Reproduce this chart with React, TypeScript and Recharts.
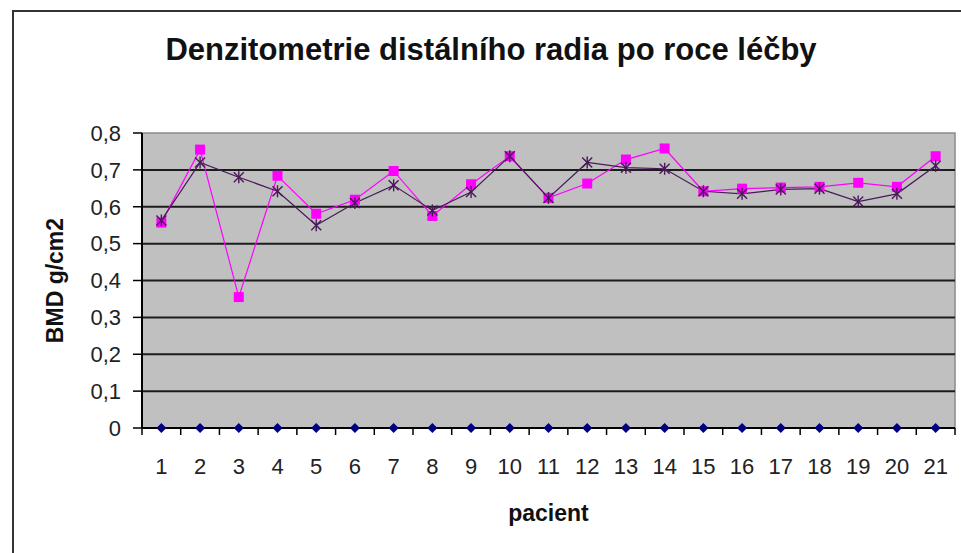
import React from 'react';
import {
  LineChart,
  Line,
  XAxis,
  YAxis,
  CartesianGrid,
  ReferenceArea,
  ReferenceLine,
} from 'recharts';

const patients: number[] = [1, 2, 3, 4, 5, 6, 7, 8, 9, 10, 11, 12, 13, 14, 15, 16, 17, 18, 19, 20, 21];
const baseline: number[] = [0, 0, 0, 0, 0, 0, 0, 0, 0, 0, 0, 0, 0, 0, 0, 0, 0, 0, 0, 0, 0];
const seriesSquare: number[] = [
  0.557, 0.755, 0.355, 0.684, 0.581, 0.619, 0.697, 0.575, 0.661, 0.737, 0.624,
  0.663, 0.728, 0.758, 0.642, 0.649, 0.652, 0.654, 0.665, 0.654, 0.737,
];
const seriesStar: number[] = [
  0.563, 0.72, 0.68, 0.642, 0.55, 0.61, 0.658, 0.59, 0.64, 0.737, 0.624,
  0.72, 0.706, 0.703, 0.642, 0.635, 0.647, 0.649, 0.614, 0.635, 0.711,
];
const yTicks: number[] = [0, 0.1, 0.2, 0.3, 0.4, 0.5, 0.6, 0.7, 0.8];
const gridValues: number[] = [0.1, 0.2, 0.3, 0.4, 0.5, 0.6, 0.7];
const boundaryTicks: number[] = [...patients.map((p) => p - 0.5), patients[patients.length - 1] + 0.5];

const TITLE = 'Denzitometrie distálního radia po roce léčby';
const Y_LABEL = 'BMD g/cm2';
const X_LABEL = 'pacient';

const data = patients.map((p, i) => ({
  pacient: p,
  base: baseline[i],
  sq: seriesSquare[i],
  st: seriesStar[i],
}));

const FONT = '"Liberation Sans", Arial, sans-serif';

const SquareDot = (props: any) => {
  const { cx, cy } = props;
  if (cx == null || cy == null) return <g />;
  return <rect x={cx - 5} y={cy - 5} width={10} height={10} fill="#FF00FF" />;
};

const StarDot = (props: any) => {
  const { cx, cy } = props;
  if (cx == null || cy == null) return <g />;
  const s = 5;
  return (
    <g stroke="#4a1858" strokeWidth={1.4}>
      <line x1={cx - s} y1={cy - s} x2={cx + s} y2={cy + s} />
      <line x1={cx - s} y1={cy + s} x2={cx + s} y2={cy - s} />
      <line x1={cx} y1={cy - s - 1} x2={cx} y2={cy + s + 1} />
    </g>
  );
};

const DiamondDot = (props: any) => {
  const { cx, cy } = props;
  if (cx == null || cy == null) return <g />;
  const s = 5;
  return (
    <polygon
      points={`${cx},${cy - s} ${cx + s},${cy} ${cx},${cy + s} ${cx - s},${cy}`}
      fill="#000080"
    />
  );
};

export default function App() {
  return (
    <div style={{ position: 'absolute', left: 0, top: 0, width: 961, height: 553, background: '#fff', overflow: 'hidden' }}>
      <LineChart
        width={961}
        height={553}
        data={data}
        margin={{ top: 133, right: 6, bottom: 65, left: 0 }}
      >
        <CartesianGrid fill="#C0C0C0" vertical={false} horizontal={false} />
        <ReferenceArea xAxisId="a" yAxisId="y" y1={0} y2={0.8} fill="none" stroke="#8a8a8a" strokeWidth={1.5} ifOverflow="visible" />
        {gridValues.map((v) => (
          <ReferenceLine key={v} xAxisId="a" yAxisId="y" y={v} stroke="#1c1c1c" strokeWidth={2} />
        ))}
        <XAxis
          xAxisId="a"
          dataKey="pacient"
          type="number"
          domain={[0.5, 21.5]}
          ticks={boundaryTicks}
          interval={0}
          tickFormatter={() => ''}
          tick={{ fontSize: 1 }}
          tickSize={7}
          tickLine={{ stroke: '#000', strokeWidth: 1.5 }}
          axisLine={{ stroke: '#000', strokeWidth: 2 }}
          height={1}
          allowDataOverflow
        />
        <XAxis
          xAxisId="b"
          dataKey="pacient"
          type="number"
          domain={[0.5, 21.5]}
          ticks={patients}
          interval={0}
          tickLine={false}
          axisLine={false}
          tickSize={0}
          tickMargin={29}
          height={59}
          tick={{ fontSize: 22, fill: '#222', fontFamily: FONT }}
          allowDataOverflow
          label={{
            content: (p: any) => {
              const vb = p.viewBox || {};
              return (
                <text
                  x={(vb.x ?? 142) + (vb.width ?? 812) / 2}
                  y={(vb.y ?? 429) + 92}
                  textAnchor="middle"
                  fontFamily={FONT}
                  fontWeight="bold"
                  fontSize={23}
                  fill="#111"
                >
                  {X_LABEL}
                </text>
              );
            },
          }}
        />
        <YAxis
          yAxisId="y"
          type="number"
          domain={[0, 0.8]}
          ticks={yTicks}
          interval={0}
          width={142}
          tickSize={9}
          tickMargin={12}
          tickLine={{ stroke: '#000', strokeWidth: 1.5 }}
          axisLine={{ stroke: '#000', strokeWidth: 2 }}
          tick={{ fontSize: 22, fill: '#222', fontFamily: FONT }}
          tickFormatter={(v: number) => String(Number(v.toFixed(1))).replace('.', ',')}
          label={{
            content: (p: any) => {
              const vb = p.viewBox || {};
              const cy = (vb.y ?? 133) + (vb.height ?? 295) / 2;
              const cx = 63;
              return (
                <text
                  x={cx}
                  y={cy}
                  transform={`rotate(-90, ${cx}, ${cy})`}
                  textAnchor="middle"
                  fontFamily={FONT}
                  fontWeight="bold"
                  fontSize={23}
                  fill="#111"
                >
                  {Y_LABEL}
                </text>
              );
            },
          }}
        />
        <Line
          xAxisId="a"
          yAxisId="y"
          dataKey="base"
          stroke="#000080"
          strokeWidth={2}
          dot={<DiamondDot />}
          activeDot={false}
          isAnimationActive={false}
        />
        <Line
          xAxisId="a"
          yAxisId="y"
          dataKey="sq"
          stroke="#FF00FF"
          strokeWidth={1.2}
          dot={<SquareDot />}
          activeDot={false}
          isAnimationActive={false}
        />
        <Line
          xAxisId="a"
          yAxisId="y"
          dataKey="st"
          stroke="#4a1858"
          strokeWidth={1.2}
          dot={<StarDot />}
          activeDot={false}
          isAnimationActive={false}
        />
      </LineChart>
      <svg
        width={961}
        height={553}
        style={{ position: 'absolute', left: 0, top: 0, pointerEvents: 'none' }}
      >
        <rect x={13} y={11} width={1000} height={600} fill="none" stroke="#333" strokeWidth={2} />
        <text
          x={491}
          y={60}
          textAnchor="middle"
          fontFamily={FONT}
          fontWeight="bold"
          fontSize={31}
          fill="#111"
        >
          {TITLE}
        </text>
      </svg>
    </div>
  );
}
